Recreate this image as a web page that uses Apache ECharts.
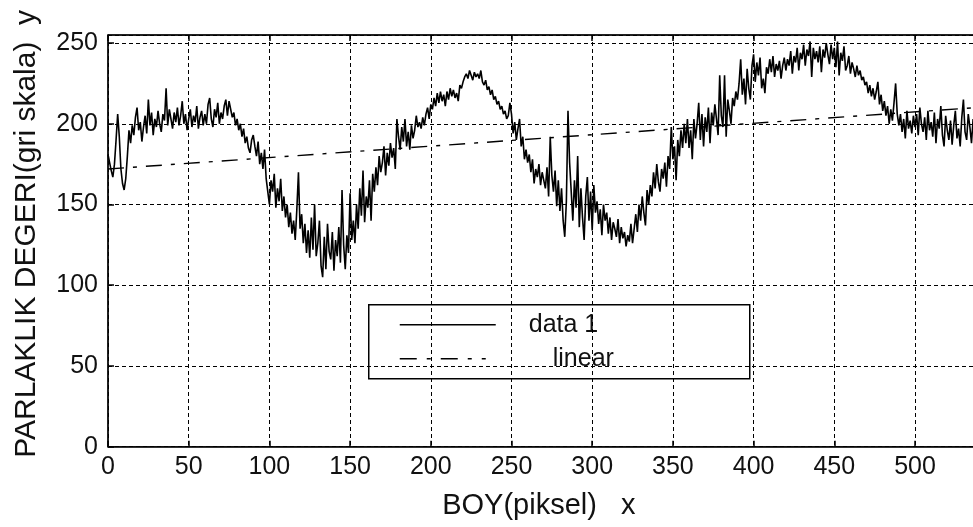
<!DOCTYPE html>
<html>
<head>
<meta charset="utf-8">
<script src="https://cdn.jsdelivr.net/npm/echarts@6/dist/echarts.min.js"></script>
<style>
html,body{margin:0;padding:0;background:#fff;}
#chart{width:973px;height:527px;}
</style>
</head>
<body>
<div id="chart"></div>
<script>
// ---- data ----
var xStart = 0; // first sample x
var data1Values = [
181,176,171,167,175,190,206,192,172,163,
159,166,180,196,188,199,193,204,210,196,
201,189,198,205,194,215,199,207,193,203,
198,208,200,195,206,202,222,199,209,203,
197,207,201,210,199,205,214,200,206,196,
203,209,198,205,201,211,197,204,208,199,
206,200,212,216,203,198,209,204,213,200,
207,203,211,215,205,214,209,204,207,199,
203,196,200,192,197,188,192,185,182,190,
193,186,180,189,175,182,172,184,166,158,
150,165,158,169,148,160,152,166,146,155,
142,150,136,145,132,140,128,147,170,135,
144,126,138,120,134,117,142,122,150,118,
126,140,112,105,130,110,138,121,116,133,
109,128,118,136,114,159,125,110,131,120,
157,128,140,126,150,135,160,143,171,139,
155,148,165,140,169,158,173,162,180,170,
176,186,168,182,174,188,179,185,172,203,
192,184,198,189,203,186,195,184,199,191,
196,205,198,201,197,204,199,206,210,203,
212,209,216,211,219,213,220,214,218,211,
220,215,222,217,221,216,219,214,224,222,
226,229,231,228,233,230,227,232,229,231,
228,233,226,224,227,221,223,218,221,215,
217,212,214,209,211,206,208,203,205,213,
206,194,201,190,197,203,186,192,178,184,
176,181,170,178,163,172,167,175,162,170,
165,160,173,155,192,168,158,171,149,165,
146,160,140,130,152,208,176,158,140,165,
148,180,136,160,142,128,155,167,140,158,
134,162,145,152,138,147,131,150,140,145,
132,142,128,139,135,130,141,126,136,129,
133,124,131,127,138,126,135,144,133,150,
140,155,145,137,159,150,162,155,170,160,
175,164,158,172,166,176,161,180,172,198,
178,186,165,190,180,196,185,200,188,203,
185,196,178,203,191,200,213,190,206,186,
204,195,210,188,207,199,212,203,193,230,
205,198,230,192,215,208,200,216,211,220,
215,225,240,218,228,212,234,222,215,236,
243,226,238,230,241,222,228,219,235,231,
240,232,242,229,237,233,239,228,236,241,
233,240,236,245,231,242,238,247,233,244,
240,249,236,246,242,251,229,247,240,245,
238,248,232,246,241,250,243,237,249,240,
247,235,251,230,244,239,248,233,236,242,
231,238,234,229,236,230,233,227,229,224,
226,219,224,217,222,215,220,226,212,218,
208,214,205,211,200,209,202,213,225,206,
199,206,195,203,191,208,197,202,194,205,
198,206,193,210,200,195,204,190,208,196,
201,192,207,188,203,197,211,193,186,205,
196,190,202,187,199,208,191,197,186,204,
215,195,190,206,198,188,203
];
var linearX = [0, 540];
var linearY = [172, 210.2];
var xTicks = [0, 50, 100, 150, 200, 250, 300, 350, 400, 450, 500, 550];
var yTicks = [0, 50, 100, 150, 200, 250];
var seriesNames = ['data 1', 'linear'];
var xTitle = 'BOY(piksel)   x';
var yTitle = 'PARLAKLIK DEGERI(gri skala)  y';

// ---- build ----
var data1 = data1Values.map(function (v, i) { return [xStart + i, v]; });
var linear = linearX.map(function (x, i) { return [x, linearY[i]]; });

var FONT = 'Liberation Sans, Arial, sans-serif';
var chart = echarts.init(document.getElementById('chart'), null, {renderer: 'canvas'});
var gridLeft = 108, gridTop = 35, gridHeight = 411.7, pxPerX = 1.614;
var xMin = xTicks[0], xMax = xTicks[xTicks.length - 1];
var gridLine = {show: true, lineStyle: {color: '#000', width: 1, type: [4, 3]}};
chart.setOption({
  backgroundColor: '#fff',
  animation: false,
  grid: {left: gridLeft, top: gridTop, height: gridHeight, width: (xMax - xMin) * pxPerX,
         containLabel: false, outerBoundsMode: 'none',
         show: true, borderColor: '#000', borderWidth: 1, backgroundColor: 'transparent'},
  xAxis: [{
    type: 'value', min: xMin, max: xMax, interval: 50, position: 'bottom',
    axisLine: {show: true, onZero: false, lineStyle: {color: '#000', width: 1.5}},
    axisTick: {show: true, inside: true, length: 6, lineStyle: {color: '#000', width: 1.5}},
    axisLabel: {color: '#111', fontFamily: FONT, fontSize: 25, margin: 8},
    splitLine: gridLine,
    name: xTitle, nameLocation: 'middle', nameGap: 45,
    nameTextStyle: {color: '#111', fontFamily: FONT, fontSize: 29, padding: [0, 26, 0, 0]}
  }, {
    type: 'value', min: xMin, max: xMax, interval: 50, position: 'top',
    axisLine: {show: true, onZero: false, lineStyle: {color: '#000', width: 1.5}},
    axisTick: {show: true, inside: true, length: 6, lineStyle: {color: '#000', width: 1.5}},
    axisLabel: {show: false}, splitLine: {show: false}
  }],
  yAxis: [{
    type: 'value', min: 0, max: 255, interval: 50,
    axisLine: {show: true, onZero: false, lineStyle: {color: '#000', width: 1.5}},
    axisTick: {show: true, inside: true, length: 6, lineStyle: {color: '#000', width: 1.5}},
    axisLabel: {color: '#111', fontFamily: FONT, fontSize: 25, margin: 10, showMaxLabel: false},
    splitLine: gridLine,
    name: yTitle, nameLocation: 'middle', nameRotate: 90, nameGap: 66,
    nameTextStyle: {color: '#111', fontFamily: FONT, fontSize: 30, padding: [0, 0, 0, 14]}
  }],
  series: [{
    name: seriesNames[0], type: 'line', data: data1, showSymbol: false, symbol: 'none',
    lineStyle: {color: '#000', width: 1.6}, z: 3
  }, {
    name: seriesNames[1], type: 'line', data: linear, showSymbol: false, symbol: 'none',
    lineStyle: {color: '#000', width: 1.4, type: [16, 9, 4, 9]}, z: 4
  }],
  graphic: [{
    type: 'group', left: 368, top: 304, z: 100,
    children: [
      {type: 'rect', shape: {x: 0, y: 0, width: 381, height: 74},
       style: {fill: '#fff', stroke: '#000', lineWidth: 1.5}},
      {type: 'line', shape: {x1: 31, y1: 20, x2: 127, y2: 20}, style: {stroke: '#000', lineWidth: 1.4}},
      {type: 'line', shape: {x1: 31, y1: 54, x2: 117, y2: 54},
       style: {stroke: '#000', lineWidth: 1.4, lineDash: [17, 10, 4, 10]}},
      {type: 'text', x: 160, y: 20, style: {text: seriesNames[0], fill: '#111', font: '25px ' + FONT, verticalAlign: 'middle'}},
      {type: 'text', x: 184, y: 54, style: {text: seriesNames[1], fill: '#111', font: '25px ' + FONT, verticalAlign: 'middle'}}
    ]
  }]
});
</script>
</body>
</html>
